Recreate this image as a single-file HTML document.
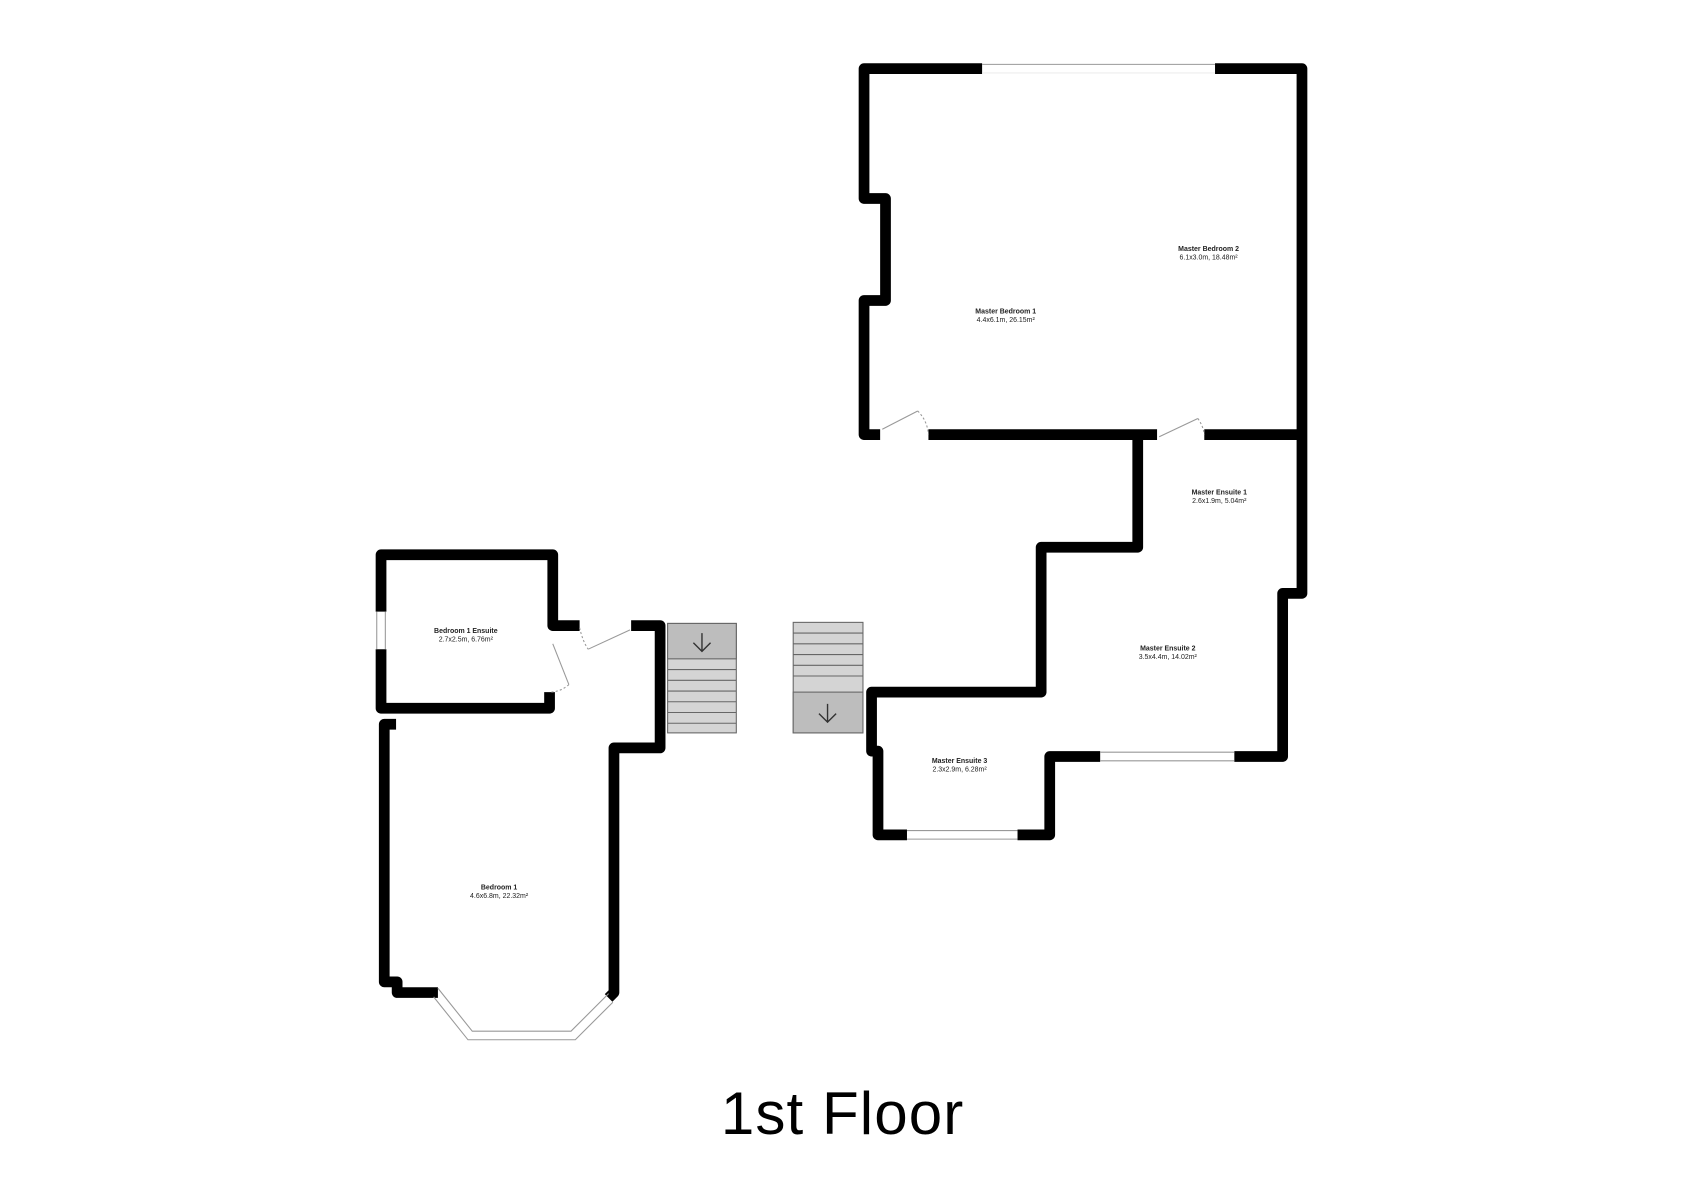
<!DOCTYPE html>
<html><head><meta charset="utf-8"><style>
html,body{margin:0;padding:0;background:#fff;}
svg{display:block;}
text{font-family:"Liberation Sans",sans-serif;}
</style></head><body>
<svg width="1683" height="1190" viewBox="0 0 1568 1109" preserveAspectRatio="none">
<g fill="none" stroke="#000" stroke-width="10" stroke-linejoin="round" stroke-linecap="butt">
<polyline points="915,64 805,64 805,185 825,185 825,280 805,280 805,405 820,405"/>
<polyline points="865,405 1078,405"/>
<polyline points="1132,64 1213,64 1213,553 1195,553 1195,705 1150,705"/>
<polyline points="1122,405 1213,405"/>
<polyline points="1060,408 1060,510 970,510 970,645 812,645 812,700 818,700 818,778 845,778"/>
<polyline points="948,778 978,778 978,705 1025,705"/>
<polyline points="355,570 355,517 515,517 515,583 540,583"/>
<polyline points="355,605 355,660 512,660 512,645"/>
<polyline points="588,583 615,583 615,697 572,697 572,925 567,930"/>
<polyline points="369,675 358,675 358,915 370,915 370,925 408,925"/>
</g>
<g stroke="#999" stroke-width="1" fill="none">
<line x1="915" y1="60" x2="1132" y2="60"/><line x1="915" y1="68" x2="1132" y2="68" stroke="#eee"/>
<line x1="1025" y1="701" x2="1150" y2="701"/><line x1="1025" y1="709" x2="1150" y2="709"/>
<line x1="845" y1="774" x2="948" y2="774"/><line x1="845" y1="782" x2="948" y2="782"/>
<line x1="351" y1="570" x2="351" y2="605"/><line x1="359" y1="570" x2="359" y2="605"/>
<polyline points="408,921 440,961 532,961 567,926"/>
<polyline points="404,929 436,969 536,969 571,934"/>
<line x1="822" y1="400" x2="855" y2="383"/><path d="M855,383 Q864,392 865,405" stroke-dasharray="2,2"/>
<line x1="1080" y1="407" x2="1116" y2="390"/><path d="M1116,390 Q1121,397 1122,405" stroke-dasharray="2,2"/>
<line x1="548" y1="605" x2="587" y2="587"/><path d="M540,585 Q543,598 548,605" stroke-dasharray="2,2"/>
<line x1="515" y1="600" x2="530" y2="638"/><path d="M530,638 Q522,645 512,645" stroke-dasharray="2,2"/>
</g>
<g stroke="#666" stroke-width="1">
<rect x="622" y="581" width="64" height="102" fill="#d4d4d4"/>
<rect x="622" y="581" width="64" height="33" fill="#bdbdbd"/>
<line x1="622" y1="624" x2="686" y2="624"/><line x1="622" y1="634" x2="686" y2="634"/>
<line x1="622" y1="644" x2="686" y2="644"/><line x1="622" y1="654" x2="686" y2="654"/>
<line x1="622" y1="664" x2="686" y2="664"/><line x1="622" y1="674" x2="686" y2="674"/>
<rect x="739" y="580" width="65" height="103" fill="#d4d4d4"/>
<rect x="739" y="645" width="65" height="38" fill="#bdbdbd"/>
<line x1="739" y1="590" x2="804" y2="590"/><line x1="739" y1="600" x2="804" y2="600"/>
<line x1="739" y1="610" x2="804" y2="610"/><line x1="739" y1="620" x2="804" y2="620"/>
<line x1="739" y1="630" x2="804" y2="630"/>
</g>
<g stroke="#333" stroke-width="1.3" fill="none">
<path d="M654,590 V606 M646,599 L654,607 L662,599"/>
<path d="M771,656 V672 M763,665 L771,673 L779,665"/>
</g>
<g font-size="6.5" text-anchor="middle" fill="#222">
<text x="937" y="292" font-weight="bold">Master Bedroom 1</text><text x="937" y="300">4.4x6.1m, 26.15m²</text>
<text x="1126" y="234" font-weight="bold">Master Bedroom 2</text><text x="1126" y="242">6.1x3.0m, 18.48m²</text>
<text x="1136" y="461" font-weight="bold">Master Ensuite 1</text><text x="1136" y="469">2.6x1.9m, 5.04m²</text>
<text x="1088" y="606" font-weight="bold">Master Ensuite 2</text><text x="1088" y="614">3.5x4.4m, 14.02m²</text>
<text x="894" y="711" font-weight="bold">Master Ensuite 3</text><text x="894" y="719">2.3x2.9m, 6.28m²</text>
<text x="434" y="590" font-weight="bold">Bedroom 1 Ensuite</text><text x="434" y="598">2.7x2.5m, 6.76m²</text>
<text x="465" y="829" font-weight="bold">Bedroom 1</text><text x="465" y="837">4.6x6.8m, 22.32m²</text>
</g>
<text x="785" y="1057" font-size="56" letter-spacing="1" text-anchor="middle" fill="#000">1st Floor</text>
</svg>
</body></html>
